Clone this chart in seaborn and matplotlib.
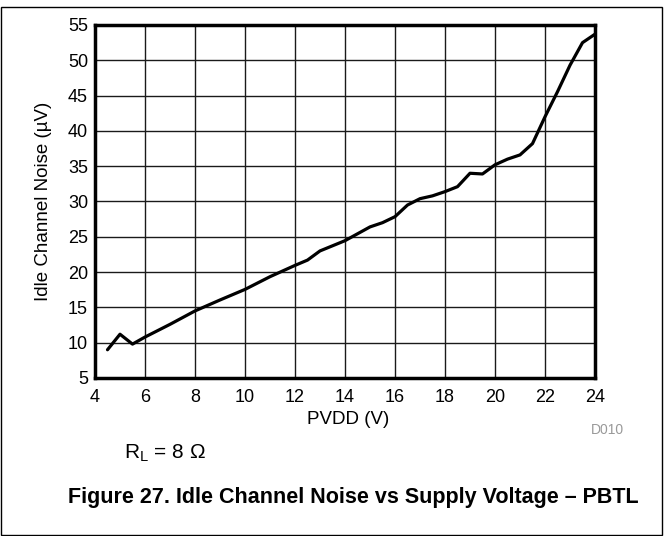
import matplotlib
matplotlib.use("Agg")
import matplotlib.pyplot as plt
import seaborn as sns
import pandas as pd
from matplotlib.patches import Rectangle

pvdd = [4.5, 5.0, 5.5, 6.0, 7.0, 8.0, 9.0, 10.0, 11.0, 12.0, 12.5, 13.0, 14.0, 15.0,
        15.5, 16.0, 16.5, 17.0, 17.5, 18.0, 18.5, 19.0, 19.5, 20.0, 20.5, 21.0, 21.5,
        22.0, 22.5, 23.0, 23.5, 24.0]
noise = [9.0, 11.2, 9.8, 10.8, 12.6, 14.5, 16.05, 17.55, 19.35, 20.95, 21.7, 23.0, 24.45,
         26.4, 27.0, 27.85, 29.5, 30.4, 30.8, 31.4, 32.1, 34.0, 33.9, 35.2, 36.0, 36.6,
         38.2, 42.0, 45.55, 49.3, 52.5, 53.7]
x_ticks = [4, 6, 8, 10, 12, 14, 16, 18, 20, 22, 24]
y_ticks = [5, 10, 15, 20, 25, 30, 35, 40, 45, 50, 55]

sns.set_style("white")
plt.rcParams['font.family'] = ['Liberation Sans', 'DejaVu Sans']
plt.rcParams['mathtext.default'] = 'regular'
plt.rcParams['text.color'] = 'black'
plt.rcParams['axes.labelcolor'] = 'black'

df = pd.DataFrame({"PVDD": pvdd, "Noise": noise})

fig = plt.figure(figsize=(6.69, 5.36), dpi=100)
ax = fig.add_axes([95/669, 1-378/536, 500/669, 353/536])
sns.lineplot(data=df, x="PVDD", y="Noise", ax=ax, color="black", linewidth=2.3)

ax.set_xlim(4, 24)
ax.set_ylim(5, 55)
ax.set_xticks(x_ticks)
ax.set_yticks(y_ticks)
ax.tick_params(axis='both', length=0, labelsize=13, colors='black')
ax.tick_params(axis='x', pad=8)
ax.tick_params(axis='y', pad=5)
ax.grid(True, color='#1a1a1a', linewidth=1.0)
ax.set_axisbelow(True)
for s in ax.spines.values():
    s.set_visible(True)
    s.set_color('black')
    s.set_linewidth(2.5)
ax.set_xlabel("PVDD (V)", fontsize=13.5, color='black')
ax.set_ylabel("Idle Channel Noise (µV)", fontsize=13.5, color='black')
ax.xaxis.set_label_coords(0.506, -0.093)
ax.yaxis.set_label_coords(-0.085, 0.5)

fig.text(591/669, 1-430/536, "D010", fontsize=10, color='#999999', ha='left', va='center')
fig.text(124/669, 1-453/536, r"R$_{L}$ = 8 Ω", fontsize=15, ha='left', va='center', color='black')
fig.text(353/669, 1-497/536, "Figure 27. Idle Channel Noise vs Supply Voltage – PBTL",
         fontsize=15.5, fontweight='bold', ha='center', va='center', color='black')

fig.add_artist(Rectangle((0.5/669, 1-535/536), 661.5/669, 528/536, transform=fig.transFigure,
                         fill=False, edgecolor='black', linewidth=1.0))

fig.savefig("out.png", dpi=100)
